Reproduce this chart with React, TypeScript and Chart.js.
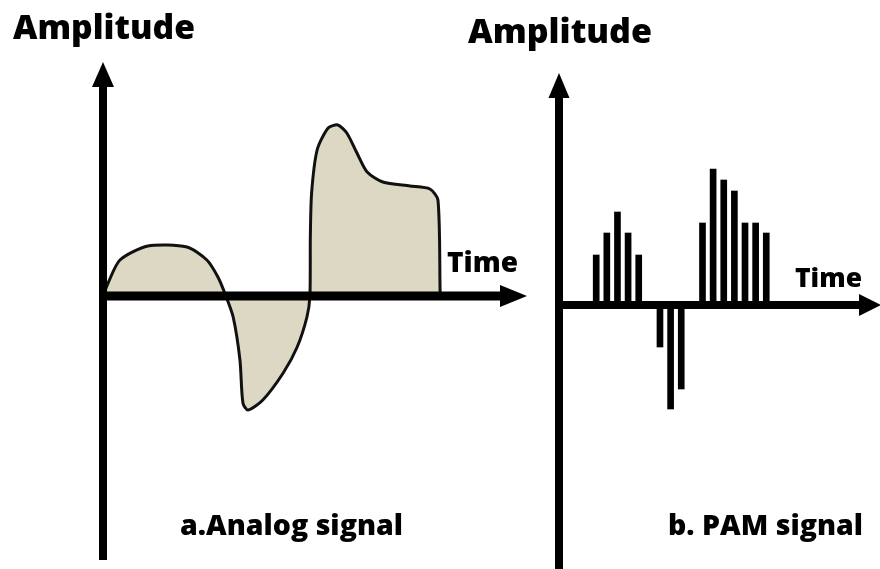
import React, { useEffect, useRef } from "react";
import { Chart, registerables } from "chart.js";

Chart.register(...registerables);

// ---- Data ----
// a. Analog signal (time, amplitude)
const analogTime = [0, 0.12, 0.4, 1.06, 1.98, 2.45, 2.71, 2.88, 3.07, 3.23, 3.3, 3.42, 3.77, 4.25, 4.58, 4.81, 4.88, 4.89, 4.92, 5.05, 5.31, 5.54, 5.75, 5.99, 6.23, 6.6, 7.24, 7.71, 7.9, 7.95, 7.95];
const analogAmplitude = [0, 0.26, 0.72, 1.0, 0.98, 0.72, 0.38, 0.04, -0.42, -1.28, -2.14, -2.28, -2.08, -1.54, -1.02, -0.42, 0, 1.18, 2.06, 2.92, 3.36, 3.42, 3.26, 2.86, 2.48, 2.28, 2.2, 2.14, 1.92, 0.12, 0];

// b. PAM signal samples (time, amplitude)
const pamTime = [3.5, 4.5, 5.5, 6.5, 7.5, 9.5, 10.5, 11.5, 13.5, 14.5, 15.5, 16.5, 17.5, 18.5, 19.5];
const pamAmplitude = [5.0, 7.2, 9.3, 7.2, 5.0, -4.2, -10.4, -8.4, 8.2, 13.6, 12.5, 11.4, 8.2, 8.2, 7.2];

// Labels
const yAxisLabel = "Amplitude";
const xAxisLabel = "Time";
const analogCaption = "a.Analog signal";
const pamCaption = "b. PAM signal";

const W = 880;
const H = 569;
const FONT = '"Open Sans", "DejaVu Sans", sans-serif';

type TextSpec = { text: string; x: number; y: number; size: number; width: number };

function drawText(ctx: CanvasRenderingContext2D, t: TextSpec) {
  ctx.save();
  ctx.font = `800 ${t.size}px ${FONT}`;
  ctx.fillStyle = "#000";
  ctx.textBaseline = "alphabetic";
  ctx.textAlign = "left";
  const m = ctx.measureText(t.text).width;
  const sx = m > 0 ? t.width / m : 1;
  ctx.translate(t.x, t.y);
  ctx.scale(sx, 1);
  ctx.fillText(t.text, 0, 0);
  ctx.restore();
}

type AxisSpec = {
  yW: number; xW: number;
  yHeadLen: number; yHeadHalf: number;
  xHeadLen: number; xHeadHalf: number;
  xTipExtra: number;
  texts: TextSpec[];
};

function makeAxesPlugin(spec: AxisSpec) {
  return {
    id: "arrowAxes",
    afterDatasetsDraw(chart: any) {
      const ctx: CanvasRenderingContext2D = chart.ctx;
      const area = chart.chartArea;
      const x0 = chart.scales.x.getPixelForValue(0);
      const y0 = chart.scales.y.getPixelForValue(0);
      ctx.save();
      ctx.fillStyle = "#000";
      const yTip = area.top;
      ctx.fillRect(x0 - spec.yW / 2, yTip + spec.yHeadLen - 1, spec.yW, area.bottom - (yTip + spec.yHeadLen - 1));
      ctx.beginPath();
      ctx.moveTo(x0, yTip);
      ctx.lineTo(x0 - spec.yHeadHalf, yTip + spec.yHeadLen);
      ctx.lineTo(x0 + spec.yHeadHalf, yTip + spec.yHeadLen);
      ctx.closePath();
      ctx.fill();
      const xTip = area.right + spec.xTipExtra;
      ctx.fillRect(x0 - spec.yW / 2, y0 - spec.xW / 2, xTip - spec.xHeadLen + 1 - (x0 - spec.yW / 2), spec.xW);
      ctx.beginPath();
      ctx.moveTo(xTip, y0);
      ctx.lineTo(xTip - spec.xHeadLen, y0 - spec.xHeadHalf);
      ctx.lineTo(xTip - spec.xHeadLen, y0 + spec.xHeadHalf);
      ctx.closePath();
      ctx.fill();
      ctx.restore();
    },
    afterDraw(chart: any) {
      const ctx: CanvasRenderingContext2D = chart.ctx;
      spec.texts.forEach((t) => drawText(ctx, t));
    },
  };
}

export default function App() {
  const leftRef = useRef<HTMLCanvasElement | null>(null);
  const rightRef = useRef<HTMLCanvasElement | null>(null);

  useEffect(() => {
    if (!leftRef.current || !rightRef.current) return;

    const left = new Chart(leftRef.current, {
      type: "line",
      data: {
        datasets: [
          {
            data: analogTime.map((t, i) => ({ x: t, y: analogAmplitude[i] })),
            borderColor: "#111",
            borderWidth: 3,
            backgroundColor: "#ddd8c3",
            fill: "origin",
            pointRadius: 0,
            tension: 0.25,
          },
        ],
      },
      options: {
        responsive: false,
        animation: false,
        events: [],
        layout: { padding: { left: 103, right: W - 527, top: 62, bottom: H - 560 } },
        plugins: { legend: { display: false }, tooltip: { enabled: false } },
        scales: {
          x: { type: "linear", display: false, min: 0, max: 10 },
          y: { type: "linear", display: false, min: -5.28, max: 4.68 },
        },
      },
      plugins: [
        makeAxesPlugin({
          yW: 8, xW: 9, yHeadLen: 25, yHeadHalf: 11, xHeadLen: 27, xHeadHalf: 11, xTipExtra: 0,
          texts: [
            { text: yAxisLabel, x: 13, y: 39, size: 33, width: 182 },
            { text: xAxisLabel, x: 447, y: 272, size: 29, width: 71 },
            { text: analogCaption, x: 180, y: 535, size: 28, width: 223 },
          ],
        }),
      ],
    } as any);

    const right = new Chart(rightRef.current, {
      type: "bar",
      data: {
        datasets: [
          {
            data: pamTime.map((t, i) => ({ x: t, y: pamAmplitude[i] })),
            backgroundColor: "#000",
            borderWidth: 0,
            barThickness: 6,
          },
        ],
      },
      options: {
        responsive: false,
        animation: false,
        events: [],
        layout: { padding: { left: 559, right: 0, top: 73, bottom: 0 } },
        plugins: { legend: { display: false }, tooltip: { enabled: false } },
        scales: {
          x: { type: "linear", display: false, min: 0, max: 30.2, offset: false },
          y: { type: "linear", display: false, min: -26.4, max: 23.2 },
        },
      },
      plugins: [
        makeAxesPlugin({
          yW: 8, xW: 8, yHeadLen: 25, yHeadHalf: 10.5, xHeadLen: 22, xHeadHalf: 11, xTipExtra: 1,
          texts: [
            { text: yAxisLabel, x: 468, y: 43, size: 34, width: 184 },
            { text: xAxisLabel, x: 795, y: 287, size: 27, width: 67 },
            { text: pamCaption, x: 668, y: 535, size: 28, width: 195 },
          ],
        }),
      ],
    } as any);

    return () => {
      left.destroy();
      right.destroy();
    };
  }, []);

  return (
    <div style={{ position: "absolute", left: 0, top: 0, width: W, height: H, background: "#fff" }}>
      <canvas ref={leftRef} width={W} height={H} style={{ position: "absolute", left: 0, top: 0 }} />
      <canvas ref={rightRef} width={W} height={H} style={{ position: "absolute", left: 0, top: 0 }} />
    </div>
  );
}
